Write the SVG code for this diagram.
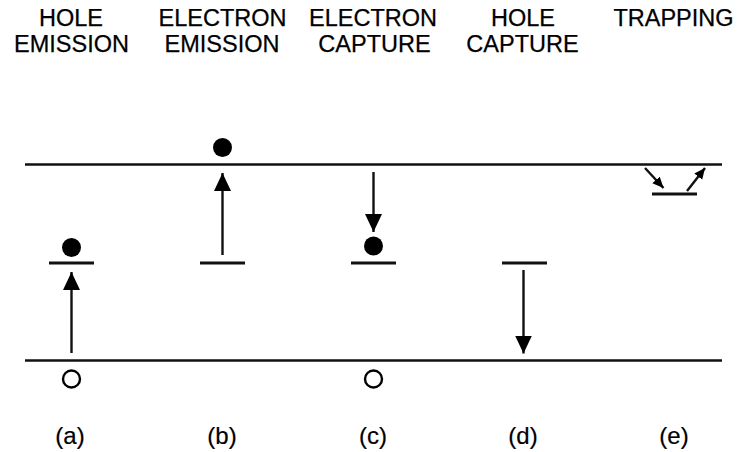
<svg xmlns="http://www.w3.org/2000/svg" width="737" height="452" viewBox="0 0 737 452">
<style>
.t{font-family:"Liberation Sans",Arial,sans-serif;font-size:23.5px;fill:#000;stroke:#000;stroke-width:0.25;text-anchor:middle}
.l{font-family:"Liberation Sans",Arial,sans-serif;font-size:24px;fill:#000;stroke:#000;stroke-width:0.2;text-anchor:middle}
.band{stroke:#111;stroke-width:2.6;fill:none}
.lvl{stroke:#111;stroke-width:2.8;fill:none}
.sh{stroke:#111;stroke-width:2.4;fill:none}
.e{fill:#000}
.h{fill:none;stroke:#000;stroke-width:2.4}
</style>
<defs>
<marker id="ah" markerUnits="userSpaceOnUse" markerWidth="18" markerHeight="18" viewBox="0 0 18 18" refX="18" refY="9" orient="auto">
<path d="M0,0.5 L18,9 L0,17.5 Z" fill="#000"/>
</marker>
<marker id="ahs" markerUnits="userSpaceOnUse" markerWidth="11" markerHeight="11" viewBox="0 0 11 11" refX="11" refY="5.5" orient="auto">
<path d="M0,0.5 L11,5.5 L0,10.5 Z" fill="#000"/>
</marker>
</defs>
<g id="headers">
<text class="t" x="71" y="26">HOLE</text>
<text class="t" x="71.5" y="52">EMISSION</text>
<text class="t" x="222.5" y="26">ELECTRON</text>
<text class="t" x="222" y="52">EMISSION</text>
<text class="t" x="373" y="26">ELECTRON</text>
<text class="t" x="374.5" y="52">CAPTURE</text>
<text class="t" x="523" y="26">HOLE</text>
<text class="t" x="522.5" y="52">CAPTURE</text>
<text class="t" x="673.5" y="26">TRAPPING</text>
</g>
<g id="bands">
<line class="band" x1="25" y1="164.5" x2="722" y2="164.5"/>
<line class="band" x1="25" y1="360.5" x2="722" y2="360.5"/>
</g>
<g id="a">
<line class="lvl" x1="49" y1="263" x2="94" y2="263"/>
<circle class="e" cx="71.5" cy="247.5" r="9.5"/>
<circle class="h" cx="71.5" cy="379" r="8.5"/>
</g>
<g id="b">
<line class="lvl" x1="200" y1="263" x2="245" y2="263"/>
<circle class="e" cx="222.5" cy="147.5" r="9.5"/>
</g>
<g id="c">
<line class="lvl" x1="351" y1="263" x2="396" y2="263"/>
<circle class="e" cx="373.5" cy="246" r="9.5"/>
<circle class="h" cx="373.5" cy="379" r="8.5"/>
</g>
<g id="d">
<line class="lvl" x1="502" y1="263" x2="547" y2="263"/>
</g>
<g id="e">
<line class="lvl" x1="652" y1="194" x2="697" y2="194"/>
</g>
<g id="connectors">
<line class="sh" x1="71.5" y1="353" x2="71.5" y2="272" marker-end="url(#ah)"/>
<line class="sh" x1="222.5" y1="255" x2="222.5" y2="173" marker-end="url(#ah)"/>
<line class="sh" x1="373.5" y1="172" x2="373.5" y2="232" marker-end="url(#ah)"/>
<line class="sh" x1="523.5" y1="270" x2="523.5" y2="353.5" marker-end="url(#ah)"/>
<line class="sh" x1="645" y1="168" x2="663.5" y2="188" marker-end="url(#ahs)"/>
<line class="sh" x1="687" y1="191" x2="705" y2="168" marker-end="url(#ahs)"/>
</g>
<g id="labels">
<text class="l" x="70" y="444">(a)</text>
<text class="l" x="222" y="444">(b)</text>
<text class="l" x="373" y="444">(c)</text>
<text class="l" x="523" y="444">(d)</text>
<text class="l" x="674" y="444">(e)</text>
</g>
</svg>
